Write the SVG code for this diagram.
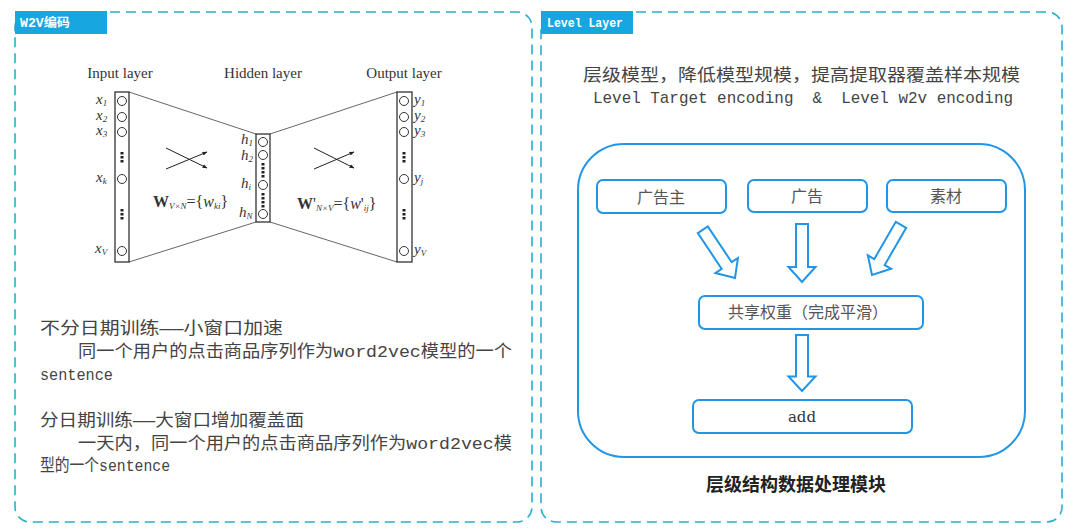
<svg xmlns="http://www.w3.org/2000/svg" width="1080" height="531" viewBox="0 0 1080 531">
<style>
.frame{fill:none;stroke:#2aaecf;stroke-width:1.6;stroke-dasharray:10 6}
.tab{fill:#17a6e0}
.tabt{font-family:"Liberation Mono","Noto Sans CJK SC",monospace;font-size:12px;font-weight:bold;fill:#fff}
.ser{font-family:"Liberation Serif",serif;fill:#333}
.lay{font-size:15px}
.lab{font-size:15px;font-style:italic}
.sub{font-size:9px}
.col{fill:#fff;stroke:#222;stroke-width:1.2}
.cir{fill:#fff;stroke:#333;stroke-width:1}
.thin{stroke:#555;stroke-width:0.9;fill:none}
.dot{fill:#222}
.body{font-family:"Liberation Mono","Noto Sans CJK SC",monospace;font-size:17px;fill:#444}
.box{fill:#fff;stroke:#2196e6;stroke-width:2}
.bt{font-family:"Noto Sans CJK SC",sans-serif;font-size:16px;fill:#555;text-anchor:middle}
.blk{fill:#fff;stroke:#2196e6;stroke-width:2;stroke-linejoin:miter}
</style>
<defs>
<marker id="ah" viewBox="0 0 10 10" refX="9" refY="5" markerWidth="5" markerHeight="5" orient="auto"><path d="M0,1 L10,5 L0,9 z" fill="#222"/></marker>
<path id="barrow" d="M-6,-58 L6,-58 L6,-15 L13.5,-15 L0,0 L-13.5,-15 L-6,-15 Z"/>
</defs>

<g id="panel-left">
<rect class="frame" x="15" y="12" width="517" height="510" rx="15"/>
<rect class="tab" x="15" y="11" width="92" height="23"/>
<text class="tabt" x="20" y="27" textLength="50" lengthAdjust="spacingAndGlyphs">W2V编码</text>
</g>

<g id="panel-right">
<rect class="frame" x="541" y="12" width="521" height="510" rx="15"/>
<rect class="tab" x="541" y="11" width="92" height="23"/>
<text class="tabt" x="547" y="27" textLength="76" lengthAdjust="spacingAndGlyphs">Level Layer</text>
</g>

<g id="network">
<text class="ser lay" x="120" y="78" text-anchor="middle">Input layer</text>
<text class="ser lay" x="263" y="78" text-anchor="middle">Hidden layer</text>
<text class="ser lay" x="404" y="78" text-anchor="middle">Output layer</text>
<g class="thin">
<line x1="129" y1="92" x2="256" y2="134"/>
<line x1="129" y1="262" x2="256" y2="222"/>
<line x1="270" y1="134" x2="397" y2="92"/>
<line x1="270" y1="222" x2="397" y2="262"/>
</g>
<rect class="col" x="115" y="92" width="14" height="170"/>
<rect class="col" x="256" y="134" width="14" height="88"/>
<rect class="col" x="397" y="92" width="15" height="170"/>
<g class="cir">
<circle cx="122" cy="101" r="4.5"/><circle cx="122" cy="117" r="4.5"/><circle cx="122" cy="132" r="4.5"/><circle cx="122" cy="179" r="4.5"/><circle cx="122" cy="251" r="4.5"/>
<circle cx="263" cy="142" r="4.5"/><circle cx="263" cy="155" r="4.5"/><circle cx="263" cy="185" r="4.5"/><circle cx="263" cy="214" r="4.5"/>
<circle cx="404" cy="101" r="4.5"/><circle cx="404" cy="117" r="4.5"/><circle cx="404" cy="132" r="4.5"/><circle cx="404" cy="179" r="4.5"/><circle cx="404" cy="251" r="4.5"/>
</g>
<g class="dot">
<rect x="120.5" y="152" width="3" height="2.5"/><rect x="120.5" y="156" width="3" height="2.5"/><rect x="120.5" y="160" width="3" height="2.5"/>
<rect x="120.5" y="209" width="3" height="2.5"/><rect x="120.5" y="213" width="3" height="2.5"/><rect x="120.5" y="217" width="3" height="2.5"/>
<rect x="261.5" y="163" width="3" height="2.5"/><rect x="261.5" y="167" width="3" height="2.5"/><rect x="261.5" y="171" width="3" height="2.5"/><rect x="261.5" y="175" width="3" height="2.5"/>
<rect x="261.5" y="193" width="3" height="2.5"/><rect x="261.5" y="197" width="3" height="2.5"/><rect x="261.5" y="201" width="3" height="2.5"/><rect x="261.5" y="205" width="3" height="2.5"/>
<rect x="402.5" y="152" width="3" height="2.5"/><rect x="402.5" y="156" width="3" height="2.5"/><rect x="402.5" y="160" width="3" height="2.5"/>
<rect x="402.5" y="209" width="3" height="2.5"/><rect x="402.5" y="213" width="3" height="2.5"/><rect x="402.5" y="217" width="3" height="2.5"/>
</g>
<g class="ser lab">
<text x="96" y="104">x<tspan class="sub" dy="2">1</tspan></text>
<text x="96" y="120">x<tspan class="sub" dy="2">2</tspan></text>
<text x="96" y="135">x<tspan class="sub" dy="2">3</tspan></text>
<text x="96" y="182">x<tspan class="sub" dy="2">k</tspan></text>
<text x="95" y="253">x<tspan class="sub" dy="2">V</tspan></text>
<text x="241" y="144">h<tspan class="sub" dy="1.5">1</tspan></text>
<text x="241" y="160">h<tspan class="sub" dy="1.5">2</tspan></text>
<text x="241" y="188">h<tspan class="sub" dy="2">i</tspan></text>
<text x="239" y="217">h<tspan class="sub" dy="2">N</tspan></text>
<text x="414" y="104">y<tspan class="sub" dy="2">1</tspan></text>
<text x="414" y="120">y<tspan class="sub" dy="2">2</tspan></text>
<text x="414" y="135">y<tspan class="sub" dy="2">3</tspan></text>
<text x="414" y="182">y<tspan class="sub" dy="2">j</tspan></text>
<text x="414" y="254">y<tspan class="sub" dy="2">V</tspan></text>
</g>
<g stroke="#222" stroke-width="1" fill="none" marker-end="url(#ah)">
<line x1="166" y1="148" x2="207" y2="168"/>
<line x1="166" y1="169" x2="207" y2="152"/>
<line x1="314" y1="148" x2="354" y2="168"/>
<line x1="314" y1="169" x2="354" y2="152"/>
</g>
<text class="ser" x="153" y="207" font-size="16"><tspan font-weight="bold">W</tspan><tspan font-size="9" font-style="italic" dy="2">V×N</tspan><tspan dy="-2">={</tspan><tspan font-style="italic">w</tspan><tspan font-size="9" font-style="italic" dy="2">ki</tspan><tspan dy="-2">}</tspan></text>
<text class="ser" x="297" y="209" font-size="16"><tspan font-weight="bold">W</tspan><tspan>'</tspan><tspan font-size="9" font-style="italic" dy="2">N×V</tspan><tspan dy="-2">={</tspan><tspan font-style="italic">w</tspan><tspan>'</tspan><tspan font-size="9" font-style="italic" dy="2">ij</tspan><tspan dy="-2">}</tspan></text>
</g>

<g id="left-text">
<text class="body" x="40" y="334" textLength="243" lengthAdjust="spacingAndGlyphs">不分日期训练——小窗口加速</text>
<text class="body" x="78" y="357" textLength="434" lengthAdjust="spacingAndGlyphs">同一个用户的点击商品序列作为word2vec模型的一个</text>
<text class="body" x="40" y="380" textLength="73" lengthAdjust="spacingAndGlyphs">sentence</text>
<text class="body" x="40" y="426" textLength="264" lengthAdjust="spacingAndGlyphs">分日期训练——大窗口增加覆盖面</text>
<text class="body" x="78" y="449" textLength="434" lengthAdjust="spacingAndGlyphs">一天内，同一个用户的点击商品序列作为word2vec模</text>
<text class="body" x="40" y="471" textLength="130" lengthAdjust="spacingAndGlyphs">型的一个sentence</text>
</g>

<g id="right-header">
<text class="body" x="583" y="81" textLength="437" lengthAdjust="spacingAndGlyphs">层级模型，降低模型规模，提高提取器覆盖样本规模</text>
<text class="body" x="593" y="103" xml:space="preserve" textLength="420" lengthAdjust="spacingAndGlyphs">Level Target encoding  &amp;  Level w2v encoding</text>
</g>

<g id="container">
<rect x="578" y="144" width="447" height="313" rx="46" fill="none" stroke="#2196e6" stroke-width="2"/>
</g>

<g id="node-advertiser">
<rect class="box" x="597" y="180" width="129" height="33" rx="6"/>
<text class="bt" x="661" y="203">广告主</text>
</g>
<g id="node-ad">
<rect class="box" x="748" y="180" width="119" height="32" rx="6"/>
<text class="bt" x="807" y="202">广告</text>
</g>
<g id="node-material">
<rect class="box" x="887" y="180" width="119" height="32" rx="6"/>
<text class="bt" x="946" y="202">素材</text>
</g>
<g id="node-shared">
<rect class="box" x="699" y="296" width="224" height="33" rx="6"/>
<text class="bt" x="808" y="318">共享权重（完成平滑）</text>
</g>
<g id="node-add">
<rect class="box" x="693" y="400" width="219" height="33" rx="6"/>
<text x="802" y="422" text-anchor="middle" font-family="DejaVu Serif, serif" font-size="15" fill="#333">add</text>
</g>

<g id="connectors">
<use href="#barrow" class="blk" transform="translate(735,278) rotate(-33.7)"/>
<use href="#barrow" class="blk" transform="translate(802,282)"/>
<use href="#barrow" class="blk" transform="translate(872,275) rotate(30)"/>
<use href="#barrow" class="blk" transform="translate(802,391) scale(1,0.966)"/>
</g>

<text x="796" y="491" text-anchor="middle" font-family="Noto Sans CJK SC, sans-serif" font-size="18" font-weight="bold" fill="#222">层级结构数据处理模块</text>
</svg>
